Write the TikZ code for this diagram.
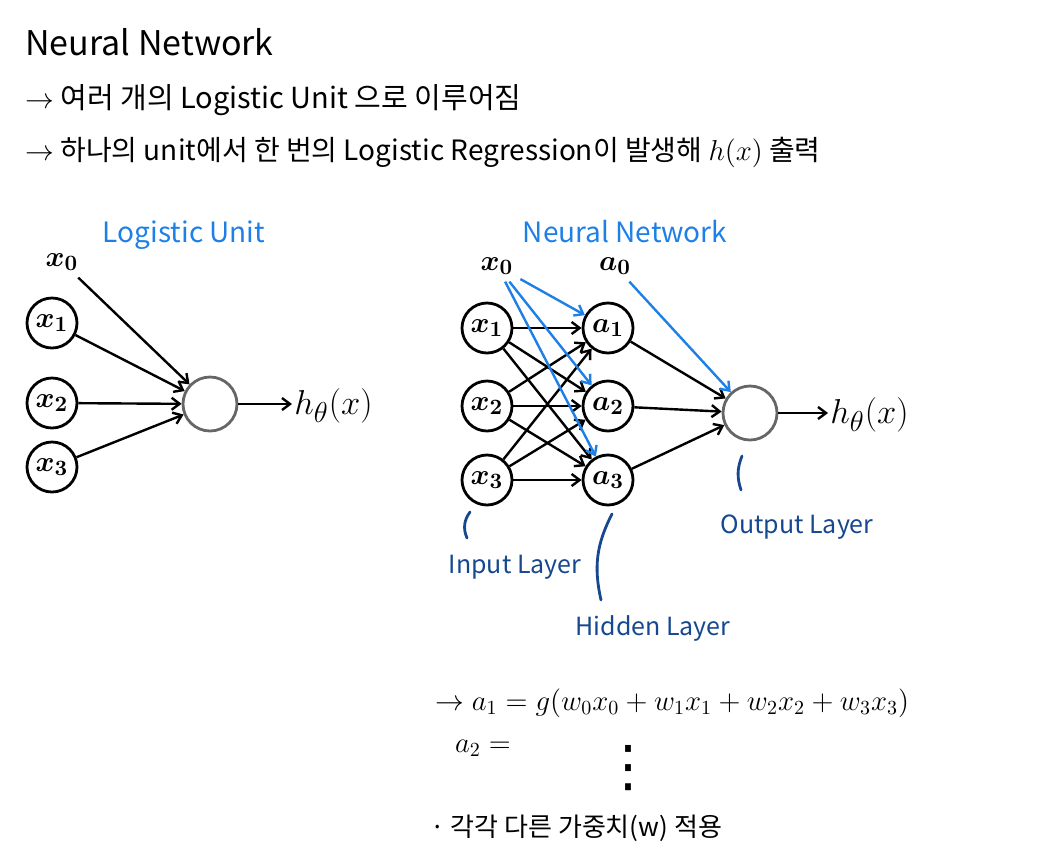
\documentclass[tikz,border=0pt]{standalone}
\usepackage{fontspec}
\usepackage{amsmath}
\setmainfont{Noto Sans CJK KR}
\newfontfamily\symbolfont{DejaVu Sans}
\usetikzlibrary{arrows.meta}
\definecolor{penblue}{HTML}{1E80E6}
\definecolor{inkblue}{HTML}{16488F}

\begin{document}
\begin{tikzpicture}[x=0.5pt, y=-0.5pt,
    unit/.style={draw, circle, line width=1.4pt, minimum size=25pt, inner sep=0pt, font=\fontsize{15}{16}\selectfont\boldmath},
    outunit/.style={draw=black!60, circle, line width=1.4pt, minimum size=27pt, inner sep=0pt},
    arr/.style={-{Straight Barb[length=4pt,width=6pt]}, line width=1.2pt},
    bluearr/.style={arr, draw=penblue},
    note/.style={anchor=west, inner sep=0pt, font=\fontsize{14}{16}\selectfont},
    head/.style={font=\fontsize{14}{16}\selectfont, text=penblue},
    bias/.style={font=\fontsize{15}{16}\selectfont\boldmath},
    layer/.style={font=\fontsize{12.5}{14}\selectfont, text=inkblue},
    brace/.style={draw=inkblue, line width=1.4pt, line cap=round},
    hout/.style={anchor=west, inner sep=1pt, font=\fontsize{19}{21}\selectfont},
    formula/.style={anchor=west, font=\fontsize{14.5}{17}\selectfont}
]
\useasboundingbox (0,0) rectangle (1058,852);

% Heading and notes
\node[note, font=\fontsize{17}{19}\selectfont] (title) at (25,42) {Neural Network};
\node[note, font=\fontsize{14.5}{16}\selectfont] (line1) at (25,100) {$\rightarrow$ 여러 개의 Logistic Unit 으로 이루어짐};
\node[note] (line2) at (25,152) {$\rightarrow$ 하나의 unit에서 한 번의 Logistic Regression이 발생해 $h(x)$ 출력};

% Logistic Unit
\node[head] (lunit) at (184,235) {Logistic Unit};
\node[bias] (lx0) at (62,262) {$x_0$};
\node[unit] (lx1) at (52,323) {$x_1$};
\node[unit] (lx2) at (52,403) {$x_2$};
\node[unit] (lx3) at (52,467) {$x_3$};
\node[outunit] (lout) at (210,404) {};
\node[hout] (lh) at (292,406) {$h_\theta(x)$};

\foreach \i in {0,1,2,3}
    \draw[arr] (lx\i) -- (lout);
\draw[arr] (lout.east) -- (lout.east -| lh.west);

% Neural Network
\node[head] (nnet) at (625,232) {Neural Network};
\node[bias] (nx0) at (497,266) {$x_0$};
\node[bias] (na0) at (615,266) {$a_0$};
\foreach \i/\y in {1/328,2/406,3/480} {
    \node[unit] (x\i) at (487,\y) {$x_\i$};
    \node[unit] (a\i) at (608,\y) {$a_\i$};
}
\node[outunit] (out) at (750,413) {};
\node[hout] (rh) at (828,415) {$h_\theta(x)$};

\foreach \i in {1,2,3}
    \foreach \j in {1,2,3}
        \draw[arr] (x\i) -- (a\j);
\foreach \j in {1,2,3}
    \draw[arr] (a\j) -- (out);
\foreach \j in {1,2,3}
    \draw[bluearr] (nx0) -- (a\j);
\draw[bluearr] (na0) -- (out);
\draw[arr] (out.east) -- (out.east -| rh.west);

% Layer names
\draw[brace] (470,512) to[bend right=30] (467,538);
\node[layer] (inl) at (515,567) {Input Layer};
\draw[brace] (612,514) to[bend right=20] (601,600);
\node[layer] (hidl) at (653,628) {Hidden Layer};
\draw[brace] (742,456) to[bend right=20] (741,490);
\node[layer] (outl) at (797,527) {Output Layer};

% Formula
\node[formula] (fa1) at (428,703) {$\rightarrow a_1 = g(w_0x_0 + w_1x_1 + w_2x_2 + w_3x_3)$};
\node[formula] (fa2) at (448,748) {$a_2 =$};
\node[font=\fontsize{28}{30}\selectfont\symbolfont] (dots) at (628,768) {⋮};
\node[note, font=\fontsize{13}{15}\selectfont] (weight) at (430,828) {· 각각 다른 가중치(w) 적용};
\end{tikzpicture}
\end{document}
